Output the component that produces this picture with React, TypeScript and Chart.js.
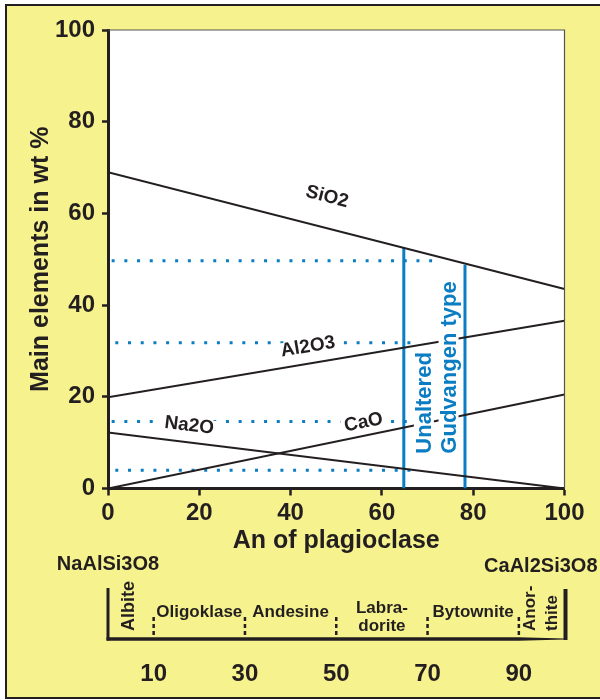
import React, { useEffect, useRef } from 'react';
import { Chart, registerables } from 'chart.js';

Chart.register(...registerables);

// ---------- data ----------
const AN_ENDS = [0, 100];
const SIO2 = [69, 43.5];
const AL2O3 = [19.9, 36.6];
const NA2O = [12.2, 0];
const CAO = [0, 20.5];

const OXIDE_NAMES = ['SiO2', 'Al2O3', 'Na2O', 'CaO'];
const LABEL_X = [48, 43.8, 17.8, 56];
const LABEL_Y = [63.6, 30.9, 13.7, 14.4];

const GUIDE_LEVELS = [49.7, 31.8, 14.6, 4.0];
const GUIDE_START = [0.8, 1.6, 0.8, 1.6];
const GUIDE_END = [71, 68, 68, 68];

const TYPE_AN = [64.8, 78.2];
const TYPE_TOP = [52.5, 48.8];
const TYPE_NAMES = ['Unaltered', 'Gudvangen type'];
const TYPE_TEXT_X = [69.2, 74.6];
const TYPE_TEXT_Y = 7.6;

const X_TICK_STEP = 20;
const Y_TICK_STEP = 20;
const AXIS_MIN = 0;
const AXIS_MAX = 100;

const PLAG_BOUNDS = [10, 30, 50, 70, 90];
const PLAG_NAMES = [['Albite'], ['Oligoklase'], ['Andesine'], ['Labra-', 'dorite'], ['Bytownite'], ['Anor-', 'thite']];
const PLAG_CENTERS = [5, 20, 40, 60, 80, 95];
const PLAG_ROTATED = [true, false, false, false, false, true];
const END_MEMBERS = ['NaAlSi3O8', 'CaAl2Si3O8'];

// ---------- styles ----------
const FONT = "'Liberation Sans', Arial, sans-serif";
const DARK = '#231f20';
const BLUE = '#0a7dc3';
const YELLOW = '#f6f28e';

const pts = (ys: number[]) => AN_ENDS.map((x, i) => ({ x, y: ys[i] }));

const decorPlugin = {
  id: 'decor',
  beforeDraw(chart: any) {
    const { ctx, chartArea } = chart;
    ctx.save();
    ctx.fillStyle = '#ffffff';
    ctx.fillRect(0, 0, 600, 700);
    ctx.fillStyle = YELLOW;
    ctx.fillRect(6, 5, 600, 693);
    ctx.strokeStyle = DARK;
    ctx.lineWidth = 2;
    ctx.strokeRect(6, 5, 600, 693);
    ctx.fillStyle = '#ffffff';
    ctx.fillRect(chartArea.left, chartArea.top, chartArea.right - chartArea.left, chartArea.bottom - chartArea.top);
    ctx.restore();
  },
  afterDatasetsDraw(chart: any) {
    const { ctx, chartArea } = chart;
    const xs = chart.scales.x;
    const ys = chart.scales.y;
    const px = (v: number) => xs.getPixelForValue(v);
    const py = (v: number) => ys.getPixelForValue(v);
    ctx.save();
    // thin top/right frame
    ctx.strokeStyle = '#555';
    ctx.lineWidth = 1.2;
    ctx.beginPath();
    ctx.moveTo(chartArea.left, chartArea.top);
    ctx.lineTo(chartArea.right, chartArea.top);
    ctx.lineTo(chartArea.right, chartArea.bottom);
    ctx.stroke();

    // oxide labels
    const series = [SIO2, AL2O3, NA2O, CAO];
    ctx.font = `bold 19px ${FONT}`;
    ctx.textAlign = 'center';
    ctx.textBaseline = 'middle';
    OXIDE_NAMES.forEach((name, i) => {
      const s = series[i];
      const ang = Math.atan2(py(s[1]) - py(s[0]), px(AN_ENDS[1]) - px(AN_ENDS[0]));
      ctx.save();
      ctx.translate(px(LABEL_X[i]), py(LABEL_Y[i]));
      ctx.rotate(ang);
      const w = ctx.measureText(name).width;
      ctx.fillStyle = '#ffffff';
      ctx.fillRect(-w / 2 - 3, -8, w + 6, 16);
      ctx.fillStyle = DARK;
      ctx.fillText(name, 0, 0);
      ctx.restore();
    });

    // blue vertical texts
    ctx.font = `bold 22px ${FONT}`;
    ctx.textAlign = 'left';
    ctx.textBaseline = 'middle';
    TYPE_NAMES.forEach((name, i) => {
      ctx.save();
      ctx.translate(px(TYPE_TEXT_X[i]), py(TYPE_TEXT_Y));
      ctx.rotate(-Math.PI / 2);
      const w = ctx.measureText(name).width;
      ctx.fillStyle = '#ffffff';
      ctx.fillRect(-1, -10, w + 2, 20);
      ctx.fillStyle = BLUE;
      ctx.fillText(name, 0, 1);
      ctx.restore();
    });
    ctx.restore();
  },
  afterDraw(chart: any) {
    const { ctx } = chart;
    const xs = chart.scales.x;
    const px = (v: number) => xs.getPixelForValue(v);
    ctx.save();
    ctx.fillStyle = DARK;
    ctx.strokeStyle = DARK;

    // end members
    ctx.font = `bold 20px ${FONT}`;
    ctx.textBaseline = 'middle';
    ctx.textAlign = 'center';
    ctx.fillText(END_MEMBERS[0], px(AXIS_MIN), 564);
    ctx.textAlign = 'right';
    ctx.fillText(END_MEMBERS[1], px(AXIS_MAX) + 33, 566);

    // bracket
    ctx.lineWidth = 3;
    ctx.beginPath();
    ctx.moveTo(px(AXIS_MIN), 588);
    ctx.lineTo(px(AXIS_MIN), 640.5);
    ctx.stroke();
    ctx.lineWidth = 4;
    ctx.beginPath();
    ctx.moveTo(px(AXIS_MAX) + 1, 589);
    ctx.lineTo(px(AXIS_MAX) + 1, 640);
    ctx.stroke();
    const last = PLAG_BOUNDS[PLAG_BOUNDS.length - 1];
    ctx.beginPath();
    ctx.moveTo(px(AXIS_MIN) - 1.5, 637.3);
    ctx.lineTo(px(last), 637.3);
    ctx.lineTo(px(AXIS_MAX), 638.6);
    ctx.lineTo(px(AXIS_MAX), 639.6);
    ctx.lineTo(px(last), 640.8);
    ctx.lineTo(px(AXIS_MIN) - 1.5, 640.8);
    ctx.closePath();
    ctx.fill();

    // boundary ticks
    ctx.lineWidth = 2.5;
    ctx.setLineDash([4, 3]);
    PLAG_BOUNDS.forEach((b) => {
      ctx.beginPath();
      ctx.moveTo(px(b), 617);
      ctx.lineTo(px(b), 638);
      ctx.stroke();
    });
    ctx.setLineDash([]);

    // names
    ctx.font = `bold 17px ${FONT}`;
    PLAG_NAMES.forEach((lines, i) => {
      const cx = px(PLAG_CENTERS[i]);
      if (PLAG_ROTATED[i]) {
        const n = lines.length;
        lines.forEach((t, j) => {
          ctx.save();
          ctx.translate(cx + (j - (n - 1) / 2) * 22 - (n === 1 ? 2 : 0), 631);
          ctx.rotate(-Math.PI / 2);
          ctx.textAlign = 'left';
          ctx.textBaseline = 'middle';
          ctx.font = `bold ${n === 1 ? 18 : 17}px ${FONT}`;
          ctx.fillText(t, 0, 0);
          ctx.restore();
        });
      } else {
        ctx.textAlign = 'center';
        ctx.textBaseline = 'middle';
        if (lines.length === 1) {
          ctx.fillText(lines[0], cx, 612);
        } else {
          ctx.fillText(lines[0], cx, 608);
          ctx.fillText(lines[1], cx, 626);
        }
      }
    });

    // numbers
    ctx.font = `bold 24px ${FONT}`;
    ctx.textAlign = 'center';
    ctx.textBaseline = 'middle';
    PLAG_BOUNDS.forEach((b) => {
      ctx.fillText(String(b), px(b), 674);
    });
    ctx.restore();
  },
};

export default function App() {
  const ref = useRef<HTMLCanvasElement | null>(null);

  useEffect(() => {
    if (!ref.current) return;
    const blackLine = (ys: number[]) => ({
      data: pts(ys),
      showLine: true,
      borderColor: DARK,
      borderWidth: 2,
      pointRadius: 0,
      fill: false,
    });
    const datasets: any[] = [
      blackLine(SIO2),
      blackLine(AL2O3),
      blackLine(NA2O),
      blackLine(CAO),
      ...TYPE_AN.map((an, i) => ({
        data: [{ x: an, y: AXIS_MIN }, { x: an, y: TYPE_TOP[i] }],
        showLine: true,
        borderColor: BLUE,
        borderWidth: 3,
        pointRadius: 0,
        fill: false,
      })),
      ...GUIDE_LEVELS.map((lvl, i) => ({
        data: [{ x: GUIDE_START[i], y: lvl }, { x: GUIDE_END[i], y: lvl }],
        showLine: true,
        borderColor: BLUE,
        borderWidth: 3,
        borderDash: [3, 9.7],
        borderCapStyle: 'butt',
        pointRadius: 0,
        fill: false,
      })),
    ];

    const chart = new Chart(ref.current, {
      type: 'scatter',
      data: { datasets },
      options: {
        animation: false,
        responsive: false,
        maintainAspectRatio: false,
        layout: { padding: { left: 0, top: 30, right: 35.5, bottom: 141.5 } },
        plugins: { legend: { display: false }, tooltip: { enabled: false } },
        scales: {
          x: {
            type: 'linear',
            min: AXIS_MIN,
            max: AXIS_MAX,
            afterFit: (s: any) => { s.height = 70; },
            ticks: { stepSize: X_TICK_STEP, color: DARK, font: { family: FONT, size: 24, weight: 'bold' }, padding: 3, maxRotation: 0 },
            grid: { drawOnChartArea: false, drawTicks: true, tickLength: 7, tickWidth: 2.5, tickColor: DARK },
            border: { display: true, color: DARK, width: 3 },
            title: { display: true, text: 'An of plagioclase', color: DARK, font: { family: FONT, size: 25, weight: 'bold' }, padding: { top: 0, bottom: 2 } },
          },
          y: {
            type: 'linear',
            min: AXIS_MIN,
            max: AXIS_MAX,
            afterFit: (s: any) => { s.width = 108; },
            ticks: { stepSize: Y_TICK_STEP, color: DARK, font: { family: FONT, size: 24, weight: 'bold' }, padding: 7 },
            grid: { drawOnChartArea: false, drawTicks: true, tickLength: 6, tickWidth: 2.5, tickColor: DARK },
            border: { display: true, color: DARK, width: 3 },
            title: { display: true, text: 'Main elements in wt %', color: DARK, font: { family: FONT, size: 25, weight: 'bold' }, padding: { top: 26, bottom: 0 } },
          },
        },
      } as any,
      plugins: [decorPlugin],
    });
    return () => chart.destroy();
  }, []);

  return (
    <div style={{ position: 'absolute', left: 0, top: 0, width: 600, height: 700 }}>
      <canvas ref={ref} width={600} height={700} style={{ display: 'block', width: 600, height: 700 }} />
    </div>
  );
}
